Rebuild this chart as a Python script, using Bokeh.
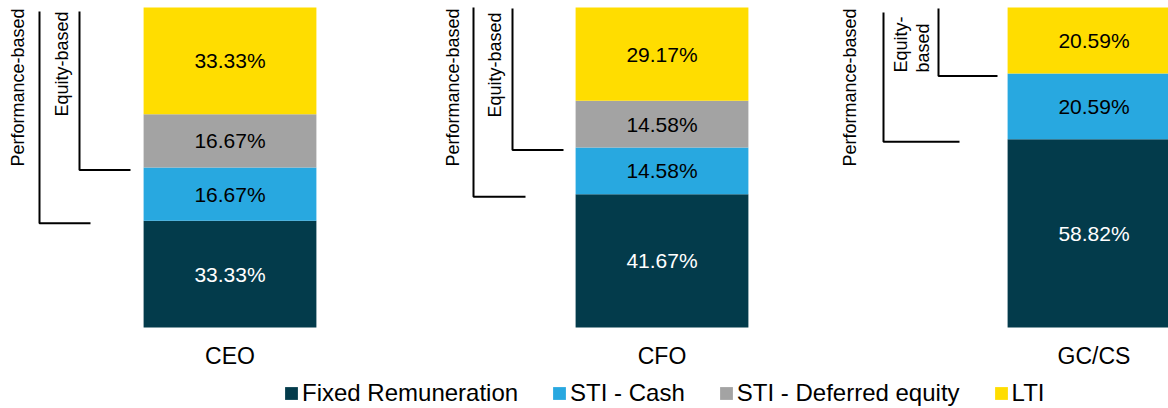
import numpy as np
from bokeh.plotting import figure
from bokeh.models import ColumnDataSource, Range1d
from bokeh.core.properties import value
from bokeh.embed import file_html
from bokeh.resources import INLINE

# ---- data ----
roles = ["CEO", "CFO", "GC/CS"]
fixed_rem = [33.33, 41.67, 58.82]
sti_cash = [16.67, 14.58, 20.59]
sti_deferred = [16.67, 14.58, 0.0]
lti = [33.33, 29.17, 20.59]
series_names = ["Fixed Remuneration", "STI - Cash", "STI - Deferred equity", "LTI"]
perf_labels = ["Performance-based", "Performance-based", "Performance-based"]
equity_labels = ["Equity-based", "Equity-based", "Equity-\nbased"]

# ---- style / layout ----
colors = ["#033B4B", "#28A8E0", "#A3A3A3", "#FFDD00"]
text_colors = ["white", "black", "black", "black"]
FONT = value("Liberation Sans")

W, H = 1168, 408
PX_X = 432.0      # pixels per category step
PX_Y = 3.2        # pixels per percentage point
BAR_TOP = 7       # screen y of 100 %
BASE = 327        # screen y of 0 %
x0 = -229.5 / PX_X

def sx(i, dx):
    return i + dx / PX_X

def sy(py):
    return 100 - (py - BAR_TOP) / PX_Y

p = figure(width=W, height=H, output_backend="svg", toolbar_location=None,
           x_range=Range1d(x0, x0 + W / PX_X),
           y_range=Range1d(-(H - BASE) / PX_Y, 100 + BAR_TOP / PX_Y),
           x_axis_location=None, y_axis_location=None, min_border=0)
p.grid.visible = False
p.outline_line_color = None

xs = list(range(len(roles)))
keys = ["fixed", "cash", "deferred", "lti"]
source = ColumnDataSource(dict(x=xs, fixed=fixed_rem, cash=sti_cash,
                               deferred=sti_deferred, lti=lti))
p.vbar_stack(keys, x="x", width=0.4, color=colors, line_color=None,
             source=source, legend_label=series_names)

# value labels
series = [fixed_rem, sti_cash, sti_deferred, lti]
lx, ly, lt, lc = [], [], [], []
for i in xs:
    base = 0.0
    for s, col in zip(series, text_colors):
        v = s[i]
        if v > 0:
            lx.append(i); ly.append(base + v / 2); lt.append(f"{v:.2f}%"); lc.append(col)
        base += v
p.text(x=lx, y=ly, text=lt, text_color=lc, text_align="center", text_baseline="middle",
       text_font=FONT, text_font_size="21px")

# category labels
p.text(x=xs, y=[0] * 3, text=roles, y_offset=28, text_align="center",
       text_baseline="middle", text_font=FONT, text_font_size="23px", text_color="black")

# brackets
perf_vline = [-190.5, -188.5, -210.5]
perf_hend = [-139.5, -136.5, -134.5]
eq_vline = [-150.5, -149.5, -155.5]
eq_hend = [-99.5, -98.5, -96.5]
perf_top = [11, 7, 12]
eq_top = [11, 8, 8]
gap = 2.5 / PX_Y

mx, my = [], []
for i in xs:
    yp = fixed_rem[i] - gap
    ye = fixed_rem[i] + sti_cash[i] - gap
    mx.append([sx(i, perf_vline[i]), sx(i, perf_vline[i]), sx(i, perf_hend[i])])
    my.append([sy(perf_top[i]), yp, yp])
    mx.append([sx(i, eq_vline[i]), sx(i, eq_vline[i]), sx(i, eq_hend[i])])
    my.append([sy(eq_top[i]), ye, ye])
p.multi_line(xs=mx, ys=my, line_color="black", line_width=2)

# bracket labels (rotated)
perf_text_dx = [-212.5, -209.5, -244.5]
perf_text_top = [8, 8, 8]
p.text(x=[sx(i, perf_text_dx[i]) for i in xs], y=[sy(perf_text_top[i]) for i in xs],
       text=perf_labels, angle=np.pi / 2, text_align="right", text_baseline="middle",
       text_font=FONT, text_font_size="18px", text_color="black")

eq_text_dx = [-168.5, -167.5]
eq_text_top = [11, 12]
p.text(x=[sx(i, eq_text_dx[i]) for i in xs[:2]], y=[sy(eq_text_top[i]) for i in xs[:2]],
       text=equity_labels[:2], angle=np.pi / 2, text_align="right", text_baseline="middle",
       text_font=FONT, text_font_size="18px", text_color="black")
p.text(x=[sx(2, -182)], y=[sy(72)], text=[equity_labels[2]], angle=np.pi / 2,
       text_align="left", text_baseline="middle", text_line_height=1.1,
       text_font=FONT, text_font_size="18px", text_color="black")

# legend
lg = p.legend[0]
lg.orientation = "horizontal"
lg.location = (283, 1)
lg.glyph_width = 16
lg.glyph_height = 16
lg.label_standoff = 3
lg.spacing = 33
lg.padding = 0
lg.margin = 0
lg.border_line_color = None
lg.background_fill_alpha = 0
lg.label_text_font = "Liberation Sans"
lg.label_text_font_size = "24px"
lg.label_text_color = "black"

open("out.html", "w").write(file_html(p, INLINE))
